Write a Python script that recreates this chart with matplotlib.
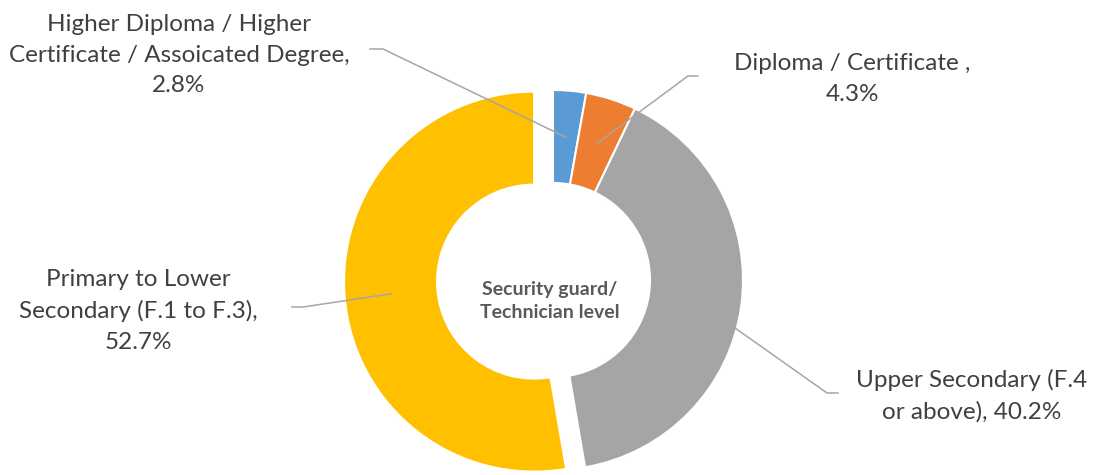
import numpy as np
import matplotlib
matplotlib.use("Agg")
from matplotlib import pyplot as plt

# education level of security guard / technician staff
names = ["Higher Diploma / Higher\nCertificate / Assoicated Degree,",
         "Diploma / Certificate ,",
         "Upper Secondary (F.4\nor above),",
         "Primary to Lower\nSecondary (F.1 to F.3),"]
seps = ["\n", "\n", " ", "\n"]
shares = [2.8, 4.3, 40.2, 52.7]
colors = ["#5B9BD5", "#ED7D31", "#A5A5A5", "#FFC000"]
centre_title = "Security guard/\nTechnician level"

W, H = 1096, 475
plt.rcParams['font.family'] = ['Lato', 'DejaVu Sans']

fig = plt.figure(figsize=(W / 100, H / 100), dpi=100)
ax = fig.add_axes([0, 0, 1, 1])

# only the biggest slice is pulled out of the ring
explode = [0, 0, 0, 19]
wedges, _ = ax.pie(shares, colors=colors, startangle=90, counterclock=False,
                   radius=190, center=(553, 195), explode=explode,
                   wedgeprops=dict(width=93, edgecolor='white', linewidth=1.5))

ax.set_xlim(0, W)
ax.set_ylim(0, H)
ax.axis('off')

# label anchors: (text x, text y, elbow x, elbow y, end x)
label_pos = [(179, 420, 383, 426, 370),
             (852, 396, 688, 399, 698),
             (972, 79, 827, 82, 838),
             (138, 164, 303, 168, 292)]

for w, name, sep, v, (tx, ty, ex, ey, endx) in zip(wedges, names, seps, shares, label_pos):
    mid = np.deg2rad((w.theta1 + w.theta2) / 2)
    rm = w.r - w.width / 2
    sx = w.center[0] + rm * np.cos(mid)
    sy = w.center[1] + rm * np.sin(mid)
    ax.plot([sx, ex, endx], [sy, ey, ey], color='#A6A6A6', lw=1.1,
            solid_joinstyle='miter')
    ax.text(tx, ty, name + sep + f"{v:.1f}%", ha='center', va='center',
            fontsize=17.5, color='#404040', linespacing=1.55)

ax.text(550, 174, centre_title, ha='center', va='center', fontsize=14,
        fontweight='bold', color='#595959', linespacing=1.45)

fig.savefig('out.png', dpi=100)
